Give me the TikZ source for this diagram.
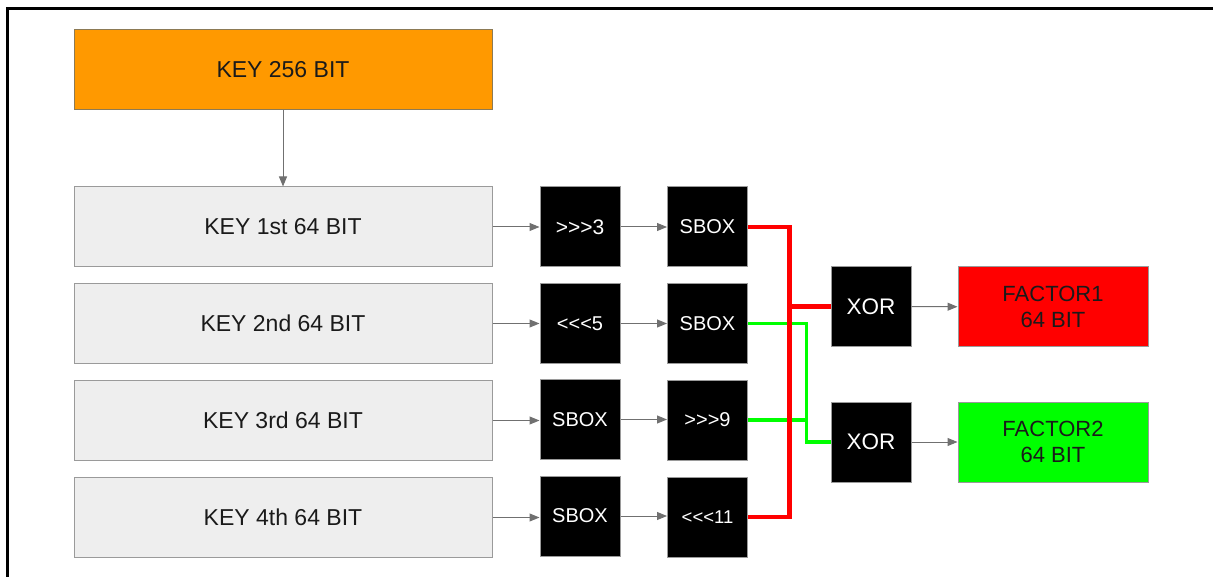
\documentclass[tikz,border=0pt]{standalone}
\usepackage{fontspec}
\setmainfont{Liberation Sans}[Ligatures=TeXOff]
\usetikzlibrary{arrows.meta}
\definecolor{keyfill}{HTML}{EEEEEE}
\definecolor{boxline}{HTML}{9A9A9A}
\definecolor{orangefill}{HTML}{FF9900}
\definecolor{orangeline}{HTML}{8C7A55}
\definecolor{redc}{HTML}{FF0000}
\definecolor{greenc}{HTML}{00FF00}
\definecolor{arrowc}{HTML}{707070}
\definecolor{textc}{HTML}{1A1A1A}
\begin{document}
\begin{tikzpicture}[x=1pt,y=-1pt,
  box/.style={draw=boxline, line width=1pt, inner sep=0pt, minimum height=80pt,
    align=center, text=textc, font=\fontsize{23}{26}\selectfont},
  keybox/.style={box, fill=keyfill, minimum width=418pt},
  blk/.style={box, fill=black, text=white, minimum width=80pt,
    font=\fontsize{20}{24}\selectfont},
  xorbox/.style={blk, font=\fontsize{22.5}{26}\selectfont},
  factor/.style={box, minimum width=190pt, font=\fontsize{22}{26}\selectfont},
  conn/.style={draw=arrowc, line width=1pt, -{Triangle[length=10pt,width=8pt]}},
  redline/.style={draw=redc, line width=4.5pt},
  greenline/.style={draw=greenc, line width=3.5pt},
  frame/.style={draw=black, line width=3.5pt}
]
\useasboundingbox (0,0) rectangle (1213,577);
% frame
\coordinate (fa) at (7.5,577);
\coordinate (fb) at (7.5,8.5);
\coordinate (fc) at (1213,8.5);
\draw[frame] (fa) -- (fb) -- (fc);

% nodes
\node[keybox, fill=orangefill, draw=orangeline] (top) at (283,70) {KEY 256 BIT};
\node[keybox] (k1) at (283,227) {KEY 1st 64 BIT};
\node[keybox] (k2) at (283,323.5) {KEY 2nd 64 BIT};
\node[keybox] (k3) at (283,420.5) {KEY 3rd 64 BIT};
\node[keybox] (k4) at (283,517.5) {KEY 4th 64 BIT};

\node[blk, font=\fontsize{21}{24}\selectfont] (a1) at (580,227) {>>>3};
\node[blk] (a2) at (580,323.5) {<<<5};
\node[blk] (a3) at (580,419.5) {SBOX};
\node[blk] (a4) at (580,516) {SBOX};

\node[blk] (b1) at (707.5,227) {SBOX};
\node[blk] (b2) at (707.5,323.5) {SBOX};
\node[blk] (b3) at (707.5,420) {>>>9};
\node[blk, font=\fontsize{18.5}{22}\selectfont] (b4) at (707.5,517) {<<<11};

\node[xorbox] (x1) at (871,306.5) {XOR};
\node[xorbox] (x2) at (871,442) {XOR};

\node[factor, fill=redc] (f1) at (1053,307) {FACTOR1\\64 BIT};
\node[factor, fill=greenc] (f2) at (1053,442) {FACTOR2\\64 BIT};

% gray arrows
\draw[conn] (top) -- (k1);
\foreach \i in {1,2,3,4}{
  \draw[conn] (k\i) -- (k\i -| a\i.west);
  \draw[conn] (a\i) -- (a\i -| b\i.west);
}
\draw[conn] (x1) -- (f1);
\draw[conn] (x2) -- (f2);

% routing coordinates
\coordinate (gx) at (806.5,0);
\coordinate (rx) at (789.5,0);

% green lines
\draw[greenline] (b2.east) -- (b2.east -| gx) -- (x2.west -| gx) -- (x2.west);
\draw[greenline] (b3.east) -- (b3.east -| gx);

% red lines
\draw[redline] (b1.east) -- (b1.east -| rx) -- (b4.east -| rx) -- (b4.east);
\draw[redline] (x1.west -| rx) -- (x1.west);
\end{tikzpicture}
\end{document}
